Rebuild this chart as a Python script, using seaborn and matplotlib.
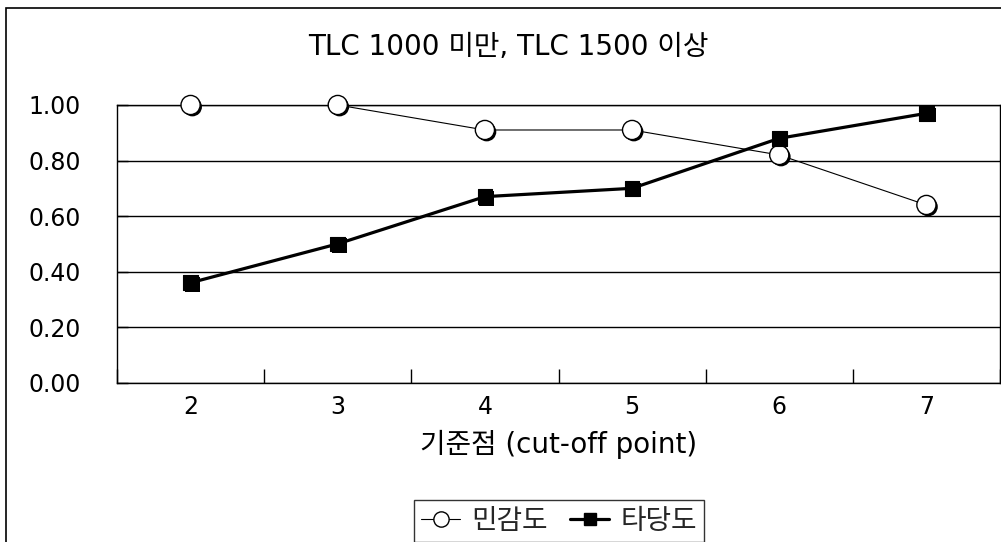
import matplotlib
matplotlib.use("Agg")
import matplotlib.pyplot as plt
import matplotlib.patheffects as pe
from matplotlib.lines import Line2D
from matplotlib.patches import Rectangle
import seaborn as sns
import pandas as pd

# Data
cut_off_points = ["2", "3", "4", "5", "6", "7"]
sensitivity = [1.00, 1.00, 0.91, 0.91, 0.82, 0.64]   # 민감도
validity = [0.36, 0.50, 0.67, 0.70, 0.88, 0.97]      # 타당도
y_ticks = [0.00, 0.20, 0.40, 0.60, 0.80, 1.00]

title = "TLC 1000 미만, TLC 1500 이상"
x_label = "기준점 (cut-off point)"
series_names = ["민감도", "타당도"]

sns.set_theme(style="white")
plt.rcParams["font.family"] = ["DejaVu Sans", "Noto Sans CJK KR"]

df = pd.DataFrame({"point": cut_off_points, "sens": sensitivity, "valid": validity})

fig = plt.figure(figsize=(10.01, 5.42), dpi=100)
ax = fig.add_axes([117 / 1001, 1 - 382.7 / 542, (1000 - 117) / 1001, (382.7 - 105) / 542])

shadow = [pe.SimplePatchShadow(offset=(1.3, -1.3), shadow_rgbFace="black", alpha=1.0), pe.Normal()]

# connecting lines
sns.lineplot(data=df, x="point", y="sens", ax=ax, color="black", linewidth=0.8, sort=False, zorder=3)
sns.lineplot(data=df, x="point", y="valid", ax=ax, color="black", linewidth=2.3, sort=False, zorder=4)

# markers with drop shadow
sns.scatterplot(data=df, x="point", y="sens", ax=ax, marker="o", s=190, color="white",
                edgecolor="black", linewidth=1.0, zorder=5, path_effects=shadow, clip_on=False)
sns.scatterplot(data=df, x="point", y="valid", ax=ax, marker="s", s=110, color="black",
                edgecolor="black", linewidth=0.8, zorder=6, path_effects=shadow, clip_on=False)

ax.set_xlim(-0.5, len(cut_off_points) - 0.5)
ax.set_ylim(0, 1.0)
ax.set_yticks(y_ticks)
ax.set_yticklabels([f"{v:.2f}" for v in y_ticks])
ax.yaxis.grid(True, color="black", linewidth=1.0)
ax.set_axisbelow(True)

# tick marks between categories, labels at category centres
ax.set_xticks(range(len(cut_off_points)))
ax.set_xticklabels(cut_off_points)
ax.set_xticks([i - 0.5 for i in range(len(cut_off_points) + 1)], minor=True)
ax.tick_params(axis="x", which="major", length=0, pad=9, labelsize=17, colors="black")
ax.tick_params(axis="x", which="minor", length=10, width=1, direction="in", color="black", bottom=True)
ax.tick_params(axis="y", which="major", length=8, width=1, direction="in", pad=26, labelsize=17,
               colors="black", left=True)

for side in ["left", "bottom", "right", "top"]:
    ax.spines[side].set_visible(True)
    ax.spines[side].set_color("black")
    ax.spines[side].set_linewidth(1.0)

ax.set_xlabel(x_label, fontsize=20, color="black", labelpad=8)
ax.set_ylabel("")

fig.text(0.508, 1 - 47 / 542, title, ha="center", va="center", fontsize=20, color="black")

handles = [
    Line2D([], [], color="black", linewidth=0.8, marker="o", markersize=11,
           markerfacecolor="white", markeredgecolor="black"),
    Line2D([], [], color="black", linewidth=2.3, marker="s", markersize=8.5,
           markerfacecolor="black", markeredgecolor="black"),
]
leg = fig.legend(handles, series_names, loc="lower center", bbox_to_anchor=(559 / 1001, 0.0),
                 ncol=2, fontsize=20, frameon=True, fancybox=False, shadow=False,
                 handlelength=1.4, handletextpad=0.4, columnspacing=0.8,
                 borderpad=0.25, borderaxespad=0.0)
leg.get_frame().set_edgecolor("black")
leg.get_frame().set_linewidth(1.0)

# chart border
fig.patches.append(Rectangle((6 / 1001, -0.1), 1.2, 1 - 8 / 542 + 0.1, transform=fig.transFigure,
                             fill=False, edgecolor="black", linewidth=1.2, zorder=0))

fig.savefig("out.png", dpi=100)
